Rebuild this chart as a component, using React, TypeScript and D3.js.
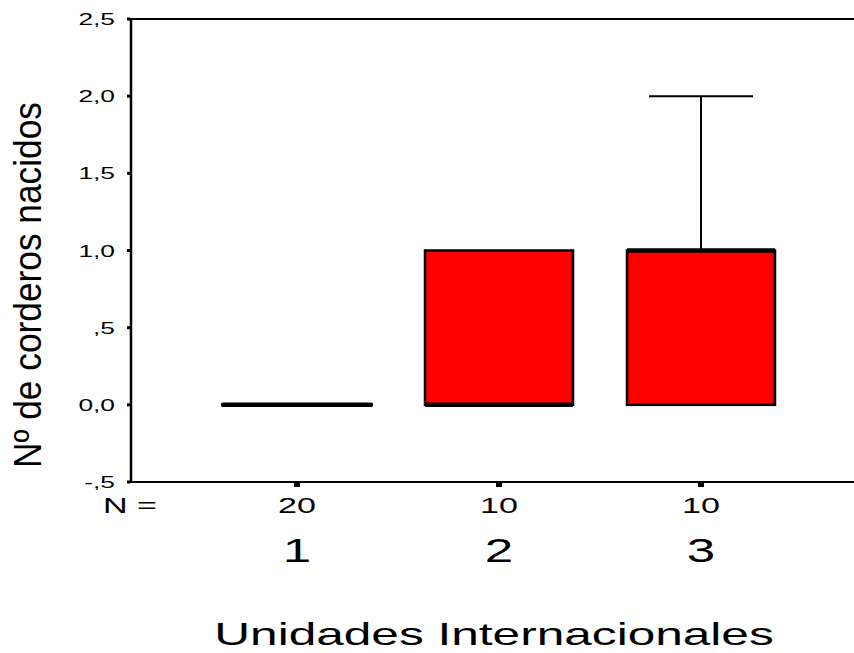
import React from "react";
import * as d3 from "d3";

const categories = ["1", "2", "3"];
const counts = [20, 10, 10];
const q1 = [0, 0, 0];
const medians = [0, 0, 1];
const q3 = [0, 1, 1];
const whiskerLow = [0, 0, 0];
const whiskerHigh = [0, 1, 2];
const yTicks = [2.5, 2.0, 1.5, 1.0, 0.5, 0.0, -0.5];

const fmt = (v: number) => {
  const s = v.toFixed(1).replace(".", ",");
  if (v === 0.5) return ",5";
  if (s.startsWith("-0,")) return "-," + s.slice(3);
  return s;
};

const FONT = "'Liberation Sans', Arial, sans-serif";
const SX = 1.55;

export default function App() {
  const W = 854, H = 653;
  const y = d3.scaleLinear().domain([-0.5, 2.5]).range([482, 19]);
  const x = d3.scalePoint<string>().domain(categories).range([297, 701]);
  const boxW = 148;
  const capW = 104;
  const axisX = 131;

  const T = (props: { x: number; y: number; size: number; anchor?: string; children: React.ReactNode }) => (
    <text
      transform={`translate(${props.x},${props.y}) scale(${SX},1)`}
      fontSize={props.size}
      fontFamily={FONT}
      textAnchor={props.anchor || "middle"}
      fill="#000"
    >
      {props.children}
    </text>
  );

  return (
    <svg width={W} height={H} style={{ position: "absolute", left: 0, top: 0, background: "#fff" }}>
      {/* frame lines */}
      <line x1={axisX} x2={W} y1={y(2.5)} y2={y(2.5)} stroke="#000" strokeWidth={2} />
      <line x1={axisX} x2={W} y1={y(-0.5)} y2={y(-0.5)} stroke="#000" strokeWidth={2} />
      <line x1={axisX} x2={axisX} y1={y(2.5) - 1} y2={y(-0.5) + 1} stroke="#000" strokeWidth={2.5} />

      {/* y ticks */}
      {yTicks.map((t) => (
        <g key={t}>
          <rect x={axisX - 4} y={y(t) - 1.5} width={3} height={3} fill="#000" />
          <T x={115} y={y(t) + 6} size={17} anchor="end">{fmt(t)}</T>
        </g>
      ))}

      {/* x ticks */}
      {categories.map((c) => (
        <rect key={c} x={x(c)! - 3} y={y(-0.5) + 1} width={6} height={4} fill="#000" />
      ))}

      {/* boxes */}
      {categories.map((c, i) => {
        const cx = x(c)!;
        const hasBox = q3[i] > q1[i];
        return (
          <g key={c}>
            {whiskerHigh[i] > q3[i] && (
              <g>
                <line x1={cx} x2={cx} y1={y(q3[i])} y2={y(whiskerHigh[i])} stroke="#000" strokeWidth={2} />
                <line x1={cx - capW / 2} x2={cx + capW / 2} y1={y(whiskerHigh[i])} y2={y(whiskerHigh[i])} stroke="#000" strokeWidth={2} />
              </g>
            )}
            {whiskerLow[i] < q1[i] && (
              <g>
                <line x1={cx} x2={cx} y1={y(q1[i])} y2={y(whiskerLow[i])} stroke="#000" strokeWidth={2} />
                <line x1={cx - capW / 2} x2={cx + capW / 2} y1={y(whiskerLow[i])} y2={y(whiskerLow[i])} stroke="#000" strokeWidth={2} />
              </g>
            )}
            {hasBox && (
              <rect
                x={cx - boxW / 2}
                y={y(q3[i])}
                width={boxW}
                height={y(q1[i]) - y(q3[i])}
                fill="#ff0000"
                stroke="#000"
                strokeWidth={2.5}
              />
            )}
            <line
              x1={cx - boxW / 2}
              x2={cx + boxW / 2}
              y1={y(medians[i])}
              y2={y(medians[i])}
              stroke="#000"
              strokeWidth={4.5}
              strokeLinecap={hasBox ? "butt" : "round"}
            />
          </g>
        );
      })}

      {/* N row */}
      <T x={103} y={513} size={22} anchor="start">N =</T>
      {categories.map((c, i) => (
        <T key={c} x={x(c)!} y={513} size={22}>{counts[i]}</T>
      ))}
      {categories.map((c) => (
        <T key={c} x={x(c)!} y={562} size={33}>{c}</T>
      ))}

      {/* x title */}
      <T x={494} y={645} size={32}>Unidades Internacionales</T>

      {/* y title */}
      <text
        transform={`translate(41,285) rotate(-90) scale(1,1.2)`}
        fontSize={32}
        fontFamily={FONT}
        textAnchor="middle"
        textLength={366}
        lengthAdjust="spacingAndGlyphs"
        fill="#000"
      >
        Nº de corderos nacidos
      </text>
    </svg>
  );
}
